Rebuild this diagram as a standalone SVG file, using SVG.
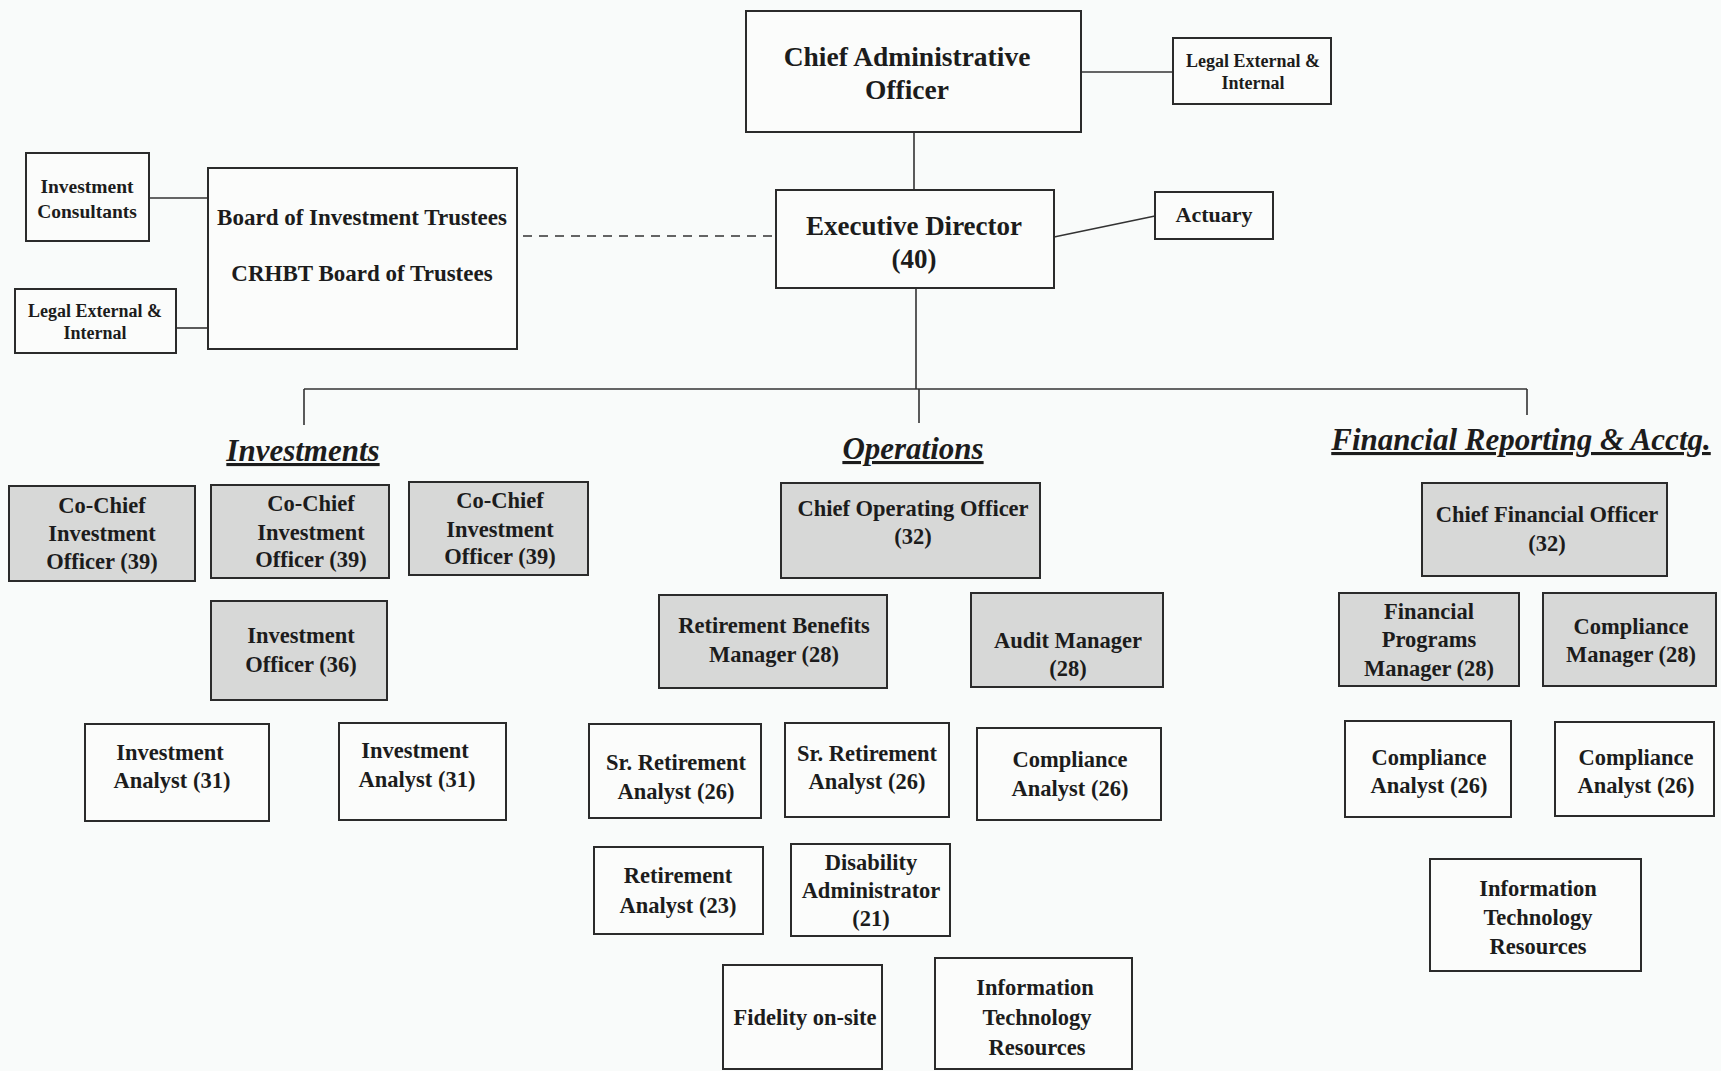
<svg xmlns="http://www.w3.org/2000/svg" width="1721" height="1071" viewBox="0 0 1721 1071">
<style>
.bg{fill:#f9fbfa}
.box{fill:#fbfcfb;stroke:#2b2b2b;stroke-width:2}
.gray{fill:#d7d8d7;stroke:#2b2b2b;stroke-width:2}
.t{font-family:"Liberation Serif","Times New Roman",serif;font-weight:bold;fill:#1c1c1c;text-anchor:middle}
.n{font-size:22.5px}
.s{font-size:18px}
.h{font-size:31px;font-style:italic;text-decoration:underline}
.ln{stroke:#333;stroke-width:1.6;fill:none}
.dash{stroke:#333;stroke-width:1.6;fill:none;stroke-dasharray:9 7}
</style>
<rect class="bg" x="0" y="0" width="1721" height="1071"/>
<g id="connectors">
<line class="ln" x1="914" y1="132" x2="914" y2="190"/>
<line class="ln" x1="1081" y1="72" x2="1173" y2="72"/>
<line class="ln" x1="1054" y1="237" x2="1155" y2="216"/>
<line class="ln" x1="149" y1="198" x2="208" y2="198"/>
<line class="ln" x1="176" y1="328" x2="208" y2="328"/>
<line class="dash" x1="523" y1="236" x2="776" y2="236"/>
<line class="ln" x1="916" y1="288" x2="916" y2="389"/>
<line class="ln" x1="304" y1="389" x2="1527" y2="389"/>
<line class="ln" x1="304" y1="389" x2="304" y2="425"/>
<line class="ln" x1="919" y1="389" x2="919" y2="423"/>
<line class="ln" x1="1527" y1="389" x2="1527" y2="415"/>
</g>
<g id="cao"><rect class="box" x="746" y="11" width="335" height="121"/>
<text class="t" font-size="27.5" x="907" y="66">Chief Administrative</text><text class="t" font-size="27.5" x="907" y="99">Officer</text></g>
<g id="legal-top"><rect class="box" x="1173" y="38" width="158" height="66"/>
<text class="t s" x="1253" y="67">Legal External &amp;</text><text class="t s" x="1253" y="89">Internal</text></g>
<g id="exec"><rect class="box" x="776" y="190" width="278" height="98"/>
<text class="t" font-size="27" x="914" y="235">Executive Director</text><text class="t" font-size="27" x="914" y="268">(40)</text></g>
<g id="actuary"><rect class="box" x="1155" y="192" width="118" height="47"/>
<text class="t" font-size="22" x="1214" y="222">Actuary</text></g>
<g id="board"><rect class="box" x="208" y="168" width="309" height="181"/>
<text class="t" font-size="23" x="362" y="225">Board of Investment Trustees</text><text class="t" font-size="23" x="362" y="281">CRHBT Board of Trustees</text></g>
<g id="inv-consultants"><rect class="box" x="26" y="153" width="123" height="88"/>
<text class="t" font-size="19.5" x="87" y="193">Investment</text><text class="t" font-size="19.5" x="87" y="218">Consultants</text></g>
<g id="legal-left"><rect class="box" x="15" y="289" width="161" height="64"/>
<text class="t s" x="95" y="317">Legal External &amp;</text><text class="t s" x="95" y="339">Internal</text></g>

<g id="h-investments"><text class="t h" x="303" y="461">Investments</text></g>
<g id="h-operations"><text class="t h" x="913" y="459">Operations</text></g>
<g id="h-financial"><text class="t h" x="1521" y="450">Financial Reporting &amp; Acctg.</text></g>

<g id="cocio1"><rect class="gray" x="9" y="486" width="186" height="95"/>
<text class="t n" x="102" y="513">Co-Chief</text><text class="t n" x="102" y="541">Investment</text><text class="t n" x="102" y="569">Officer (39)</text></g>
<g id="cocio2"><rect class="gray" x="211" y="485" width="178" height="93"/>
<text class="t n" x="311" y="511">Co-Chief</text><text class="t n" x="311" y="540">Investment</text><text class="t n" x="311" y="567">Officer (39)</text></g>
<g id="cocio3"><rect class="gray" x="409" y="482" width="179" height="93"/>
<text class="t n" x="500" y="508">Co-Chief</text><text class="t n" x="500" y="537">Investment</text><text class="t n" x="500" y="564">Officer (39)</text></g>
<g id="inv-officer"><rect class="gray" x="211" y="601" width="176" height="99"/>
<text class="t n" x="301" y="643">Investment</text><text class="t n" x="301" y="672">Officer (36)</text></g>
<g id="inv-analyst1"><rect class="box" x="85" y="724" width="184" height="97"/>
<text class="t n" x="170" y="760">Investment</text><text class="t n" x="172" y="788">Analyst (31)</text></g>
<g id="inv-analyst2"><rect class="box" x="339" y="723" width="167" height="97"/>
<text class="t n" x="415" y="758">Investment</text><text class="t n" x="417" y="787">Analyst (31)</text></g>

<g id="coo"><rect class="gray" x="781" y="483" width="259" height="95"/>
<text class="t n" x="913" y="516">Chief Operating Officer</text><text class="t n" x="913" y="544">(32)</text></g>
<g id="rbm"><rect class="gray" x="659" y="595" width="228" height="93"/>
<text class="t n" x="774" y="633">Retirement Benefits</text><text class="t n" x="774" y="662">Manager (28)</text></g>
<g id="audit"><rect class="gray" x="971" y="593" width="192" height="94"/>
<text class="t n" x="1068" y="648">Audit Manager</text><text class="t n" x="1068" y="676">(28)</text></g>
<g id="sr-ret1"><rect class="box" x="589" y="724" width="172" height="94"/>
<text class="t n" x="676" y="770">Sr. Retirement</text><text class="t n" x="676" y="799">Analyst (26)</text></g>
<g id="sr-ret2"><rect class="box" x="785" y="723" width="164" height="94"/>
<text class="t n" x="867" y="761">Sr. Retirement</text><text class="t n" x="867" y="789">Analyst (26)</text></g>
<g id="comp-analyst-ops"><rect class="box" x="977" y="728" width="184" height="92"/>
<text class="t n" x="1070" y="767">Compliance</text><text class="t n" x="1070" y="796">Analyst (26)</text></g>
<g id="ret-analyst"><rect class="box" x="594" y="847" width="169" height="87"/>
<text class="t n" x="678" y="883">Retirement</text><text class="t n" x="678" y="913">Analyst (23)</text></g>
<g id="disability"><rect class="box" x="791" y="844" width="159" height="92"/>
<text class="t n" x="871" y="870">Disability</text><text class="t n" x="871" y="898">Administrator</text><text class="t n" x="871" y="926">(21)</text></g>
<g id="fidelity"><rect class="box" x="723" y="965" width="159" height="104"/>
<text class="t n" x="805" y="1025">Fidelity on-site</text></g>
<g id="it-ops"><rect class="box" x="935" y="958" width="197" height="111"/>
<text class="t n" x="1035" y="995">Information</text><text class="t n" x="1037" y="1025">Technology</text><text class="t n" x="1037" y="1055">Resources</text></g>

<g id="cfo"><rect class="gray" x="1422" y="483" width="245" height="93"/>
<text class="t n" x="1547" y="522">Chief Financial Officer</text><text class="t n" x="1547" y="551">(32)</text></g>
<g id="fpm"><rect class="gray" x="1339" y="593" width="180" height="93"/>
<text class="t n" x="1429" y="619">Financial</text><text class="t n" x="1429" y="647">Programs</text><text class="t n" x="1429" y="676">Manager (28)</text></g>
<g id="comp-mgr"><rect class="gray" x="1543" y="593" width="173" height="93"/>
<text class="t n" x="1631" y="634">Compliance</text><text class="t n" x="1631" y="662">Manager (28)</text></g>
<g id="comp-analyst1"><rect class="box" x="1345" y="721" width="166" height="96"/>
<text class="t n" x="1429" y="765">Compliance</text><text class="t n" x="1429" y="793">Analyst (26)</text></g>
<g id="comp-analyst2"><rect class="box" x="1555" y="722" width="159" height="94"/>
<text class="t n" x="1636" y="765">Compliance</text><text class="t n" x="1636" y="793">Analyst (26)</text></g>
<g id="it-fin"><rect class="box" x="1430" y="859" width="211" height="112"/>
<text class="t n" x="1538" y="896">Information</text><text class="t n" x="1538" y="925">Technology</text><text class="t n" x="1538" y="954">Resources</text></g>
</svg>
